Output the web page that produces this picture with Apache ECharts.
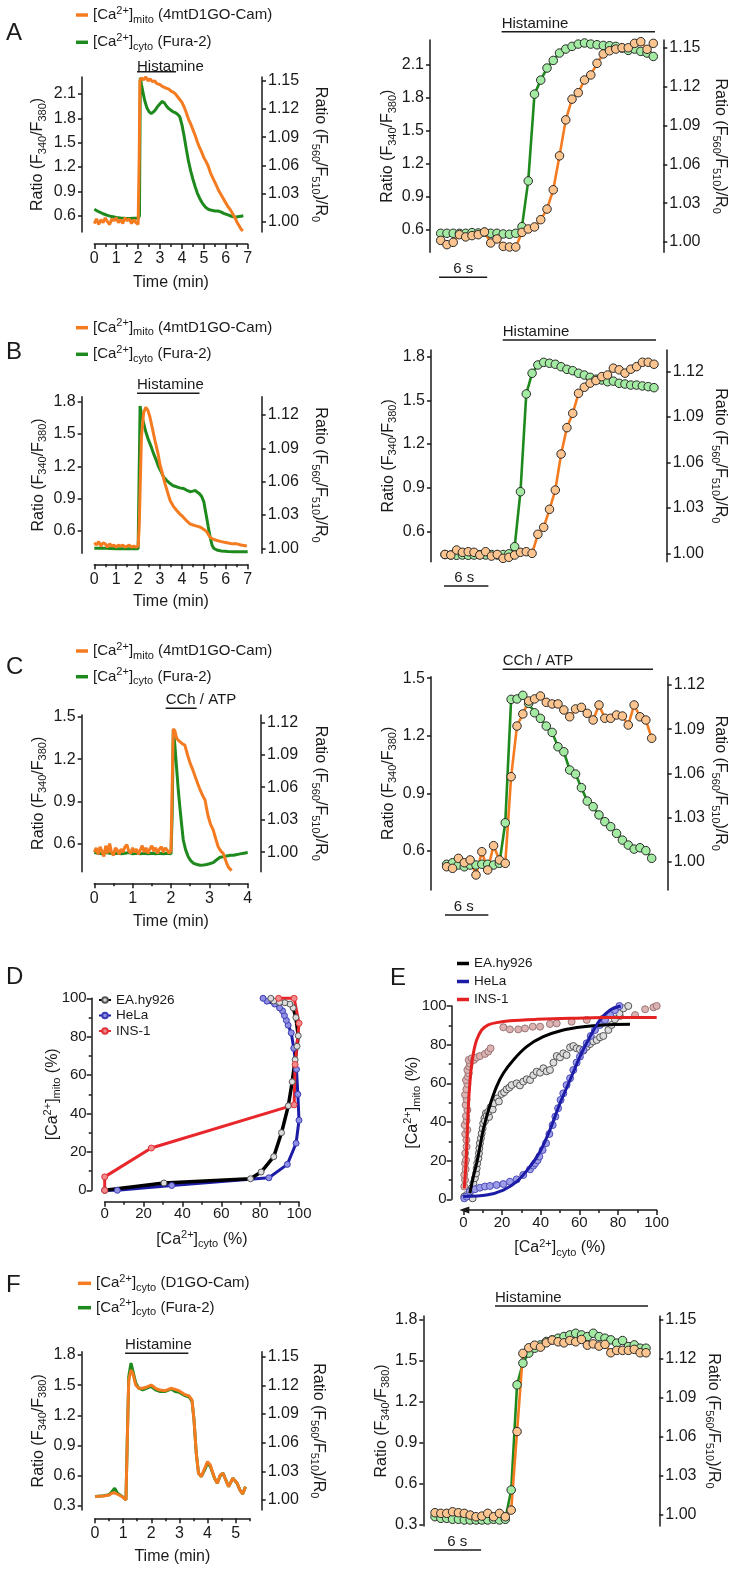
<!DOCTYPE html>
<html><head><meta charset="utf-8">
<script src="https://cdn.jsdelivr.net/npm/echarts@6/dist/echarts.min.js"></script>
<style>html,body{margin:0;padding:0;background:#fff;}#c{width:738px;height:1570px;}</style>
</head><body><div id="c"></div>
<script>
// ================= DATA =================
// Panel A left: time (min), ratio
const A_L_MITO = [[0,0.998],[0.1,1.003],[0.2,0.997],[0.3,1.002],[0.4,0.999],[0.5,1.004],[0.6,1.0],[0.7,0.997],[0.8,1.003],[0.9,1.001],[1.0,1.004],[1.1,0.999],[1.2,1.002],[1.3,0.998],[1.4,1.004],[1.5,1.001],[1.6,1.003],[1.7,0.998],[1.8,1.002],[1.9,0.999],[2.0,0.997],[2.05,1.07],[2.08,1.150],[2.15,1.153],[2.25,1.151],[2.35,1.154],[2.45,1.150],[2.55,1.152],[2.65,1.149],[2.75,1.150],[2.85,1.147],[3.0,1.146],[3.1,1.144],[3.2,1.143],[3.3,1.142],[3.4,1.141],[3.5,1.139],[3.6,1.138],[3.7,1.136],[3.8,1.133],[3.9,1.130],[4.0,1.127],[4.1,1.122],[4.2,1.116],[4.3,1.109],[4.4,1.104],[4.5,1.098],[4.6,1.092],[4.7,1.085],[4.8,1.079],[4.9,1.074],[5.0,1.068],[5.1,1.064],[5.2,1.059],[5.3,1.052],[5.4,1.047],[5.5,1.042],[5.6,1.037],[5.7,1.032],[5.8,1.028],[5.9,1.024],[6.0,1.020],[6.1,1.016],[6.2,1.013],[6.3,1.009],[6.4,1.005],[6.5,1.000],[6.6,0.996],[6.7,0.992],[6.78,0.990]];
const A_L_CYTO = [[0,0.68],[0.2,0.65],[0.4,0.625],[0.6,0.605],[0.8,0.59],[1.0,0.58],[1.2,0.572],[1.4,0.568],[1.6,0.566],[1.8,0.568],[2.0,0.57],[2.06,0.6],[2.1,2.30],[2.15,2.22],[2.22,2.12],[2.3,2.02],[2.4,1.93],[2.5,1.88],[2.6,1.86],[2.7,1.88],[2.8,1.91],[2.9,1.95],[3.0,1.98],[3.1,2.01],[3.2,1.99],[3.3,1.95],[3.4,1.92],[3.5,1.90],[3.6,1.88],[3.7,1.87],[3.8,1.85],[3.9,1.82],[4.0,1.72],[4.1,1.58],[4.2,1.42],[4.3,1.27],[4.4,1.15],[4.5,1.05],[4.6,0.96],[4.7,0.88],[4.8,0.82],[4.9,0.77],[5.0,0.73],[5.1,0.70],[5.2,0.68],[5.3,0.67],[5.4,0.665],[5.5,0.66],[5.6,0.66],[5.7,0.655],[5.8,0.645],[5.9,0.63],[6.0,0.62],[6.1,0.61],[6.2,0.60],[6.3,0.59],[6.4,0.585],[6.5,0.585],[6.6,0.59],[6.7,0.595],[6.8,0.60]];
const A_L_STIM = [1.95, 3.73];
// Panel A right: samples (frame interval DT seconds)
const A_R_DT = 0.78;
const A_R_CYTO = [0.570,0.570,0.570,0.570,0.570,0.576,0.573,0.579,0.570,0.570,0.564,0.561,0.570,0.630,1.044,1.830,1.957,2.066,2.135,2.202,2.238,2.262,2.283,2.293,2.283,2.277,2.271,2.268,2.262,2.247,2.226,2.238,2.217,2.202,2.171];
const A_R_MITO = [1.0012,0.9979,0.9997,1.0056,1.0039,1.0049,1.0056,1.0077,0.9992,1.0023,0.9966,0.9961,0.9961,1.0074,1.0100,1.0116,1.0172,1.0254,1.0403,1.0665,1.0943,1.1103,1.1153,1.1251,1.1290,1.1380,1.1452,1.1477,1.1490,1.1500,1.1500,1.1534,1.1547,1.1488,1.1534];
const A_R_STIM = [7.6, 26.86];
const A_R_SCALE = [-0.2, 6];

// Panel B
const B_L_MITO = [[0,1.005],[0.1,1.003],[0.2,1.006],[0.3,1.002],[0.4,1.005],[0.5,1.004],[0.6,1.001],[0.7,1.004],[0.8,1.002],[0.9,1.003],[1.0,1.001],[1.1,1.003],[1.2,1.002],[1.3,1.003],[1.4,1.001],[1.5,1.002],[1.6,1.003],[1.7,1.001],[1.8,1.002],[1.9,1.001],[2.0,1.002],[2.05,1.02],[2.15,1.10],[2.25,1.122],[2.35,1.127],[2.45,1.124],[2.54,1.118],[2.65,1.108],[2.77,1.097],[2.9,1.086],[3.0,1.075],[3.1,1.068],[3.23,1.058],[3.35,1.050],[3.46,1.043],[3.6,1.038],[3.76,1.034],[3.9,1.031],[4.06,1.028],[4.2,1.025],[4.37,1.022],[4.5,1.021],[4.68,1.020],[4.85,1.019],[5.0,1.017],[5.13,1.015],[5.28,1.010],[5.45,1.008],[5.6,1.007],[5.8,1.006],[6.05,1.005],[6.3,1.004],[6.5,1.004],[6.7,1.003],[6.96,1.002]];
const B_L_CYTO = [[0,0.44],[0.5,0.44],[1.0,0.435],[1.5,0.435],[2.0,0.435],[2.05,0.45],[2.09,1.76],[2.17,1.66],[2.25,1.60],[2.35,1.52],[2.47,1.445],[2.6,1.38],[2.7,1.32],[2.82,1.26],[2.93,1.197],[3.05,1.15],[3.15,1.104],[3.3,1.07],[3.46,1.04],[3.6,1.02],[3.76,1.01],[3.9,1.0],[4.06,0.995],[4.2,0.98],[4.37,0.965],[4.5,0.97],[4.6,0.975],[4.68,0.965],[4.8,0.945],[4.9,0.92],[5.0,0.87],[5.06,0.80],[5.13,0.72],[5.2,0.64],[5.28,0.55],[5.37,0.47],[5.45,0.44],[5.59,0.424],[5.8,0.415],[6.1,0.41],[6.36,0.408],[6.7,0.408],[7.0,0.408]];
const B_L_STIM = [1.95, 4.8];
const B_R_DT = 0.72;
const B_R_CYTO = [0.440,0.437,0.435,0.437,0.435,0.437,0.440,0.437,0.440,0.437,0.440,0.445,0.494,0.872,1.544,1.686,1.743,1.761,1.755,1.748,1.731,1.713,1.704,1.686,1.674,1.658,1.645,1.640,1.628,1.632,1.617,1.612,1.605,1.605,1.599,1.594,1.587];
const B_R_MITO = [0.9993,0.9989,1.0022,1.0007,1.0011,1.0007,0.9989,1.0011,0.9982,0.9993,0.9967,0.9974,0.9989,1.0007,1.0011,1.0000,1.0126,1.0172,1.0291,1.0418,1.0656,1.0830,1.0925,1.1057,1.1097,1.1124,1.1141,1.1167,1.1178,1.1223,1.1212,1.1190,1.1216,1.1233,1.1262,1.1262,1.1249];
const B_R_STIM = [7.16, 26.26];
const B_R_SCALE = [-0.62, 6];

// Panel C
const C_L_MITO = [[0,1.000],[0.05,1.004],[0.1,0.998],[0.15,1.005],[0.2,1.001],[0.25,0.996],[0.3,1.006],[0.35,0.999],[0.4,1.008],[0.45,1.000],[0.5,0.997],[0.55,1.004],[0.6,1.002],[0.65,0.998],[0.7,1.003],[0.75,1.000],[0.8,1.005],[0.85,1.007],[0.9,1.001],[0.95,0.999],[1.0,1.004],[1.05,1.000],[1.1,1.003],[1.15,0.998],[1.2,1.002],[1.25,1.006],[1.3,1.000],[1.35,1.004],[1.4,0.999],[1.45,1.003],[1.5,1.006],[1.55,1.001],[1.6,1.004],[1.65,0.999],[1.7,1.003],[1.75,1.005],[1.8,1.000],[1.85,1.004],[1.9,1.002],[1.95,0.999],[2.0,1.001],[2.03,1.06],[2.06,1.114],[2.1,1.112],[2.15,1.105],[2.2,1.103],[2.3,1.100],[2.36,1.099],[2.43,1.090],[2.5,1.082],[2.57,1.076],[2.63,1.070],[2.7,1.063],[2.76,1.0575],[2.83,1.052],[2.89,1.048],[2.93,1.040],[2.97,1.033],[3.03,1.026],[3.1,1.0206],[3.17,1.012],[3.23,1.005],[3.3,1.001],[3.36,0.999],[3.42,0.993],[3.45,0.990],[3.5,0.986],[3.58,0.983]];
const C_L_CYTO = [[0,0.54],[0.1,0.535],[0.2,0.53],[0.3,0.54],[0.4,0.535],[0.5,0.53],[0.6,0.535],[0.7,0.53],[0.8,0.535],[0.9,0.54],[1.0,0.53],[1.1,0.535],[1.2,0.53],[1.3,0.535],[1.4,0.53],[1.5,0.535],[1.6,0.53],[1.7,0.535],[1.8,0.53],[1.9,0.535],[2.0,0.53],[2.03,0.8],[2.06,1.407],[2.1,1.30],[2.15,1.124],[2.19,0.98],[2.23,0.864],[2.28,0.73],[2.32,0.628],[2.38,0.56],[2.45,0.51],[2.52,0.48],[2.59,0.463],[2.68,0.455],[2.76,0.45],[2.85,0.452],[2.93,0.455],[3.0,0.46],[3.1,0.468],[3.2,0.49],[3.28,0.506],[3.36,0.51],[3.45,0.515],[3.55,0.52],[3.63,0.52],[3.72,0.525],[3.8,0.53],[3.9,0.535],[4.0,0.54]];
const C_L_STIM = [1.86, 2.67];
const C_R_DT = 0.717;
const C_R_CYTO = [0.531,0.539,0.527,0.518,0.527,0.527,0.531,0.531,0.527,0.536,0.747,1.390,1.392,1.411,1.369,1.320,1.291,1.251,1.218,1.143,1.117,1.022,1.001,0.930,0.860,0.831,0.788,0.753,0.727,0.692,0.657,0.631,0.610,0.617,0.602,0.562];
const C_R_MITO = [0.9966,0.9955,1.0023,0.9993,1.0012,0.9910,1.0068,0.9944,1.0109,1.0012,0.9989,1.0577,1.0921,1.1003,1.1091,1.1105,1.1125,1.1082,1.1071,1.1071,1.1030,1.0984,1.1037,1.1048,1.1007,1.0962,1.1064,1.0974,1.0974,1.0996,1.0989,1.0928,1.1064,1.0984,1.0962,1.0838];
const C_R_STIM = [6.85, 25.7];
const C_R_SCALE = [-0.9, 6];

// Panel D: [cyto %, mito %]
const D_EA = [[0,0],[30.5,3.8],[75,6],[80.5,9.5],[87,17.5],[91,30],[94.5,44],[96.5,56.5],[98,68],[99,75],[99.6,80.5],[98.4,90],[97,95],[95.3,97],[92.7,97.7],[90,97.9],[87,98.6],[85.5,100]];
const D_HELA = [[0,0],[6.5,0],[34.5,2.5],[84.5,6.5],[94,13.5],[98.5,24.5],[100,36.5],[99.4,50],[98.7,63],[97.3,74],[96,82],[94.4,86],[93.5,88.5],[92.5,91],[91.5,93.5],[90,95],[87.5,97],[83.5,98.5],[81.5,100]];
const D_INS = [[0,0],[0,7],[24,22],[97.5,44.5],[98,65.5],[100,87],[97.5,100],[89.5,100]];

// Panel E: measured points and fitted curves [cyto %, mito %]
const E_INS_PTS = [[0.5,6.6],[0.9,10],[0.5,12.6],[1.2,15.5],[0.9,18.6],[1.4,20.3],[1.0,23.8],[1.7,27.2],[1.6,30.7],[1.0,33.8],[2.1,35.9],[0.7,38.4],[1.7,40.7],[1.4,43.1],[2.1,46.2],[1.2,48.8],[1.7,51.7],[0.9,54.1],[1.6,56.9],[2.1,59.7],[1.4,61.7],[2.4,63.4],[2.8,65.2],[2.1,66.9],[3.1,68.6],[3.4,70.3],[2.8,72.1],[4.3,72.9],[5.5,72.1],[6.9,73.4],[8.6,74.1],[11.2,75.2],[12.9,76.4],[14.1,78.1],[20.7,89],[24.1,87.9],[28.4,87.9],[31.9,88.4],[35.9,89.3],[39.7,89.3],[44.8,90.7],[48.3,91],[56,91.9],[63.8,92.8],[72.4,93.6],[81,94.8],[88.8,95.3],[94,98.3],[98.3,99.3],[100,100]];
const E_EA_PTS = [[0.5,1.4],[1.7,2.2],[4.8,0.5],[3.4,4],[4.3,5.7],[5.2,8.3],[6,10.9],[6.6,13.4],[6.9,16],[7.2,18.6],[7.8,21.2],[8.1,23.8],[8.3,26.4],[8.6,29],[9.1,31.6],[9.5,34.1],[10,36.7],[10.3,39.3],[10.9,41.9],[11.7,44.5],[11.2,40.5],[12.1,43.2],[13.3,42.6],[12.9,45.3],[14.1,47.6],[15.2,46.4],[15.9,49.7],[17.6,52.2],[18.4,50.6],[19.8,54.5],[21.1,55.4],[22.4,56.9],[23.8,57.8],[25,59.1],[27.6,60],[29.3,58.9],[31,60.9],[32.8,62.1],[34.5,61.7],[36.2,64.2],[37.9,66],[39.7,65.5],[41.4,67.8],[43.1,66.2],[44.8,66.9],[46.6,70.7],[48.3,74.1],[50,73.4],[51.7,75.5],[53.4,74.6],[55.2,78.6],[56.9,79.3],[58.6,78.1],[60.3,77.6],[62.1,76.9],[63.8,78.8],[65.5,80.3],[67.2,81.7],[69,82.4],[70.7,83.8],[72.4,84.5],[75,87.6],[76.7,90.2],[78.4,93.1],[80.7,96.2],[82.8,98.8],[85.3,100]];
const E_HELA_PTS = [[0.5,0.5],[1.7,1.4],[3.4,4],[6,5.2],[8.6,6],[11.2,6.6],[13.8,6.9],[17.2,7.4],[20.7,7.9],[24.1,9.1],[27.6,10.3],[31,12.6],[34.5,15.5],[36.2,17.4],[37.1,18.6],[38.4,20.2],[39.3,22.1],[41,25.5],[42.8,29],[44.5,33.8],[46.2,38.4],[47.6,42.8],[49,47.1],[50.3,51.4],[51.7,54.8],[53.4,59.1],[55.2,62.6],[56.9,66.9],[58.6,70.7],[60.3,73.8],[62.1,77.2],[63.8,80.7],[65.9,84.5],[68.1,87.6],[70.7,90.2],[73.3,92.8],[75.9,95.3],[78.4,97.9],[80.7,100]];
const E_INS_FIT = [[0.5,5.7],[1.4,18.6],[2.1,35.9],[2.9,53.1],[4,66.9],[5.2,75.5],[6.9,82.4],[9.5,87.6],[12.9,90.2],[17.2,91.4],[24.1,92.4],[37.9,93.1],[55.2,93.6],[72.4,94],[100,94.1]];
const E_EA_FIT = [[3.4,3.1],[5.2,11.7],[6.9,18.6],[8.6,27.2],[10.3,35.9],[12.1,42.8],[13.8,48.8],[17.2,58.3],[20.7,65.2],[25.9,72.1],[32.8,79],[41.4,84.1],[51.7,87.6],[62.1,89.3],[72.4,90.2],[86.2,90.5]];
const E_HELA_FIT = [[0,1.4],[12,2.2],[20.7,4.8],[27.6,9.1],[34.5,16.9],[39.7,24.7],[44.8,35.9],[50,49.7],[55.2,61.7],[60.3,73.8],[65.5,84.1],[70.7,92.8],[75.9,97.9],[81.4,100]];

// Panel F
const F_L_CYTO = [[0,0.391],[0.3,0.398],[0.5,0.408],[0.6,0.44],[0.7,0.474],[0.8,0.425],[1.0,0.385],[1.1,0.358],[1.15,0.989],[1.2,1.587],[1.28,1.72],[1.35,1.637],[1.45,1.521],[1.55,1.471],[1.7,1.454],[1.85,1.471],[2.0,1.487],[2.15,1.454],[2.3,1.437],[2.5,1.437],[2.7,1.461],[2.85,1.437],[3.0,1.428],[3.2,1.395],[3.35,1.381],[3.45,1.338],[3.52,1.155],[3.6,0.823],[3.68,0.624],[3.78,0.59],[3.9,0.657],[4.0,0.724],[4.1,0.69],[4.25,0.574],[4.35,0.524],[4.45,0.597],[4.55,0.624],[4.65,0.557],[4.75,0.49],[4.9,0.574],[4.97,0.59],[5.05,0.524],[5.15,0.457],[5.25,0.417],[5.35,0.49]];
const F_L_D1GO = [[0,1.0035],[0.3,1.0042],[0.5,1.0052],[0.6,1.007],[0.7,1.0076],[0.8,1.006],[1.0,1.0028],[1.1,1.0],[1.15,1.0662],[1.2,1.1256],[1.28,1.136],[1.35,1.1319],[1.45,1.1203],[1.55,1.1169],[1.7,1.1169],[1.85,1.1183],[2.0,1.1203],[2.15,1.1169],[2.3,1.1151],[2.5,1.1144],[2.7,1.1169],[2.85,1.1158],[3.0,1.1141],[3.2,1.1102],[3.35,1.1088],[3.45,1.1046],[3.52,1.0837],[3.6,1.0489],[3.68,1.0279],[3.78,1.0244],[3.9,1.0332],[4.0,1.0401],[4.1,1.0366],[4.25,1.0227],[4.35,1.0175],[4.45,1.0262],[4.55,1.0279],[4.65,1.0209],[4.75,1.0139],[4.9,1.0227],[4.97,1.0244],[5.05,1.0178],[5.15,1.0105],[5.25,1.0063],[5.35,1.0139]];
const F_L_STIM = [1.07, 3.32];
const F_R_DT = 0.737;
const F_R_CYTO = [0.361,0.349,0.349,0.342,0.342,0.337,0.337,0.337,0.337,0.337,0.342,0.337,0.342,0.556,1.323,1.482,1.555,1.591,1.615,1.640,1.652,1.664,1.676,1.688,1.700,1.688,1.676,1.700,1.676,1.664,1.652,1.628,1.647,1.603,1.615,1.591,1.591];
const F_R_D1GO = [1.0018,1.0013,1.0013,1.0025,1.0018,1.0013,1.0000,0.9987,0.9992,1.0013,0.9987,1.0013,0.9987,1.0038,1.0641,1.1241,1.1284,1.1304,1.1289,1.1322,1.1343,1.1330,1.1322,1.1340,1.1330,1.1348,1.1304,1.1314,1.1297,1.1310,1.1246,1.1264,1.1264,1.1264,1.1272,1.1246,1.1246];
const F_R_STIM = [7.54, 26.95];
const F_R_SCALE = [-0.2, 6];

// Tick values
const TICK_FURA_A = [0.6,0.9,1.2,1.5,1.8,2.1];
const TICK_FURA_B = [0.6,0.9,1.2,1.5,1.8];
const TICK_FURA_C = [0.6,0.9,1.2,1.5];
const TICK_FURA_F = [0.3,0.6,0.9,1.2,1.5,1.8];
const TICK_CAM_115 = [1.00,1.03,1.06,1.09,1.12,1.15];
const TICK_CAM_112 = [1.00,1.03,1.06,1.09,1.12];
const TIME_7 = [0,1,2,3,4,5,6,7], TIME_7_MINOR = [0.5,1.5,2.5,3.5,4.5,5.5,6.5];
const TIME_4 = [0,1,2,3,4], TIME_4_MINOR = [0.5,1.5,2.5,3.5];
const TIME_5 = [0,1,2,3,4,5], TIME_5_MINOR = [0.5,1.5,2.5,3.5,4.5,5.5];

// Texts
const LEG = {
  mito: '[Ca{sup|2+}]{sub|mito} (4mtD1GO-Cam)',
  fura: '[Ca{sup|2+}]{sub|cyto} (Fura-2)',
  d1go: '[Ca{sup|2+}]{sub|cyto} (D1GO-Cam)',
  D_EA: 'EA.hy926', D_HELA: 'HeLa', D_INS: 'INS-1',
  E_EA: 'EA.hy926', E_HELA: 'HeLa', E_INS: 'INS-1'
};
const NAME_FURA = 'Ratio (F{sub|340}/F{sub|380})';
const NAME_CAM = 'Ratio (F{sub|560}/F{sub|510})/R{sub|0}';
const NAME_TIME = 'Time (min)';
const NAME_MITO_PCT = '[Ca{sup|2+}]{sub|mito} (%)';
const NAME_CYTO_PCT = '[Ca{sup|2+}]{sub|cyto} (%)';

// ================= STYLE =================
const FONT = '"Liberation Sans", Arial, Helvetica, sans-serif';
const TXT = '#1a1a1a', AX = '#1a1a1a';
const ORANGE = '#f47b20', GREEN = '#1e8a1e';
const ORANGE_FILL = '#fcc48e', GREEN_FILL = '#a3eaa3';
const RICH = {
  sub: {fontSize: 11, lineHeight: 10, verticalAlign: 'bottom', fontFamily: FONT, fontWeight: 'normal', color: TXT},
  sup: {fontSize: 11, lineHeight: 10, verticalAlign: 'top', fontFamily: FONT, fontWeight: 'normal', color: TXT}
};
const NAME_STYLE = {fontFamily: FONT, fontSize: 16, fontWeight: 'normal', color: TXT, lineHeight: 20, rich: RICH};
const LABEL = {fontFamily: FONT, fontSize: 16, fontWeight: 'normal', color: TXT};
const LINE = {color: AX, width: 1.5};

const grids = [], xAxes = [], yAxes = [], series = [], legends = [], titles = [];

function yCfg(gi, o, pos) {
  return {
    gridIndex: gi, type: 'value', position: pos, offset: o.off, min: o.min, max: o.max,
    name: o.name, nameLocation: 'middle', nameRotate: pos === 'left' ? 90 : -90, nameGap: o.gap,
    nameTextStyle: NAME_STYLE, nameMoveOverlap: false,
    axisLine: {show: true, onZero: false, lineStyle: LINE},
    axisTick: {show: true, length: 4, customValues: o.ticks, lineStyle: LINE},
    axisLabel: Object.assign({show: true, margin: 6, customValues: o.ticks, formatter: v => Number(v).toFixed(o.dec)}, LABEL),
    splitLine: {show: false}
  };
}

function annot(left, width, xmin, xmax, y, seg, text, mode, dist) {
  const gi = grids.length;
  grids.push({left: left, width: width, top: y - 1, height: 1});
  const xi = xAxes.length;
  xAxes.push({gridIndex: gi, type: 'value', min: xmin, max: xmax, show: false});
  const yi = yAxes.length;
  yAxes.push({gridIndex: gi, type: 'value', min: 0, max: 1, show: false});
  series.push({type: 'line', xAxisIndex: xi, yAxisIndex: yi, data: [[seg[0], 0], [seg[1], 0]],
    symbol: 'none', clip: false, silent: true, lineStyle: {color: AX, width: 1.5}});
  const lx = mode === 'center' ? (seg[0] + seg[1]) / 2 : seg[0];
  series.push({type: 'scatter', xAxisIndex: xi, yAxisIndex: yi, data: [[lx, 0]], symbolSize: 1,
    itemStyle: {color: 'rgba(0,0,0,0)', opacity: 1}, clip: false, silent: true,
    label: {show: true, formatter: text, position: 'top', distance: dist, opacity: 1,
      align: mode === 'center' ? 'center' : 'left', fontFamily: FONT, fontSize: 15, fontWeight: 'normal', color: TXT, lineHeight: 15}});
}

function tracePanel(P) {
  const gi = grids.length;
  grids.push({left: P.left, top: P.top, width: P.width, height: P.height});
  const xi = xAxes.length;
  let xMax;
  if (P.time) {
    xMax = P.xMax;
    xAxes.push({gridIndex: gi, type: 'value', position: 'bottom', offset: P.xOff, min: 0, max: xMax,
      name: NAME_TIME, nameLocation: 'middle', nameGap: P.xGap, nameTextStyle: NAME_STYLE, nameMoveOverlap: false,
      axisLine: {show: true, onZero: false, lineStyle: LINE},
      axisTick: {show: true, length: 5, customValues: P.time, lineStyle: LINE},
      axisLabel: Object.assign({show: true, margin: 7, customValues: P.time, formatter: v => String(v)}, LABEL),
      splitLine: {show: false}});
    xAxes.push({gridIndex: gi, type: 'value', position: 'bottom', offset: P.xOff, min: 0, max: xMax,
      axisLine: {show: false}, axisTick: {show: true, length: 3, customValues: P.minor, lineStyle: LINE},
      axisLabel: {show: false}, splitLine: {show: false}});
  } else {
    xMax = (P.cyto.length - 1) * P.dt;
    xAxes.push({gridIndex: gi, type: 'value', min: 0, max: xMax, show: false});
  }
  const yl = yAxes.length;
  yAxes.push(yCfg(gi, Object.assign({name: NAME_FURA, dec: 1}, P.yL), 'left'));
  yAxes.push(yCfg(gi, Object.assign({name: NAME_CAM, dec: 2}, P.yR), 'right'));
  if (P.time) {
    series.push({type: 'line', name: 'fura', xAxisIndex: xi, yAxisIndex: yl, data: P.cyto, showSymbol: false, symbol: 'none',
      color: GREEN, itemStyle: {color: GREEN}, lineStyle: {color: GREEN, width: 3}});
    series.push({type: 'line', name: P.mitoName, xAxisIndex: xi, yAxisIndex: yl + 1, data: P.mito, showSymbol: false, symbol: 'none',
      color: ORANGE, itemStyle: {color: ORANGE}, lineStyle: {color: ORANGE, width: 3}});
  } else {
    const mk = (arr) => arr.map((v, i) => [i * P.dt, v]);
    series.push({type: 'line', name: 'dots_fura', xAxisIndex: xi, yAxisIndex: yl, data: mk(P.cyto), clip: false,
      symbol: 'circle', symbolSize: 8.5, showSymbol: true, showAllSymbol: true,
      itemStyle: {color: GREEN_FILL, borderColor: '#2a2a2a', borderWidth: 1}, lineStyle: {color: GREEN, width: 2.6}});
    series.push({type: 'line', name: 'dots_cam', xAxisIndex: xi, yAxisIndex: yl + 1, data: mk(P.mito), clip: false,
      symbol: 'circle', symbolSize: 8.5, showSymbol: true, showAllSymbol: true,
      itemStyle: {color: ORANGE_FILL, borderColor: '#2a2a2a', borderWidth: 1}, lineStyle: {color: ORANGE, width: 2.6}});
  }
  annot(P.left, P.width, 0, xMax, P.stimY, P.stim, P.stimText, 'left', P.stimDist);
  if (!P.time) annot(P.left, P.width, 0, xMax, P.scaleY, [P.scale[0], P.scale[0] + P.scale[1]], P.scale[1] + ' s', 'center', 0);
}

// ---------- build panels ----------
tracePanel({left: 94.3, top: 77, width: 153.4, height: 155, time: TIME_7, minor: TIME_7_MINOR, xMax: 7, xOff: 12, xGap: 29,
  yL: {min: 0.4, max: 2.31, off: 12.3, gap: 34, ticks: TICK_FURA_A}, yR: {min: 0.989, max: 1.154, off: 14.3, gap: 48, ticks: TICK_CAM_115},
  cyto: A_L_CYTO, mito: A_L_MITO, mitoName: 'mito', stim: A_L_STIM, stimY: 71.7, stimText: 'Histamine', stimDist: -3});
tracePanel({left: 440.7, top: 40, width: 212.6, height: 212.3, dt: A_R_DT,
  yL: {min: 0.398, max: 2.32, off: 10.7, gap: 32, ticks: TICK_FURA_A}, yR: {min: 0.992, max: 1.156, off: 10, gap: 47, ticks: TICK_CAM_115},
  cyto: A_R_CYTO, mito: A_R_MITO, stim: A_R_STIM, stimY: 31.7, stimText: 'Histamine', stimDist: 0, scale: A_R_SCALE, scaleY: 277.3});

tracePanel({left: 94.3, top: 396.7, width: 153.4, height: 156.6, time: TIME_7, minor: TIME_7_MINOR, xMax: 7, xOff: 11, xGap: 27,
  yL: {min: 0.393, max: 1.846, off: 12.6, gap: 33.4, ticks: TICK_FURA_B}, yR: {min: 0.9955, max: 1.1365, off: 14, gap: 48.3, ticks: TICK_CAM_112},
  cyto: B_L_CYTO, mito: B_L_MITO, mitoName: 'mito', stim: B_L_STIM, stimY: 393.3, stimText: 'Histamine', stimDist: 0});
tracePanel({left: 445, top: 350, width: 209, height: 211.7, dt: B_R_DT,
  yL: {min: 0.391, max: 1.846, off: 14, gap: 32.7, ticks: TICK_FURA_B}, yR: {min: 0.9945, max: 1.1343, off: 12.7, gap: 43.3, ticks: TICK_CAM_112},
  cyto: B_R_CYTO, mito: B_R_MITO, stim: B_R_STIM, stimY: 340, stimText: 'Histamine', stimDist: 0, scale: B_R_SCALE, scaleY: 586});

tracePanel({left: 94.3, top: 715, width: 153.4, height: 156.7, time: TIME_4, minor: TIME_4_MINOR, xMax: 4, xOff: 11.6, xGap: 28.7,
  yL: {min: 0.404, max: 1.512, off: 12.6, gap: 33.4, ticks: TICK_FURA_C}, yR: {min: 0.982, max: 1.1267, off: 13.3, gap: 49, ticks: TICK_CAM_112},
  cyto: C_L_CYTO, mito: C_L_MITO, mitoName: 'mito', stim: C_L_STIM, stimY: 708.3, stimText: 'CCh / ATP', stimDist: 0});
tracePanel({left: 446.7, top: 676.7, width: 205, height: 213.3, dt: C_R_DT,
  yL: {min: 0.397, max: 1.508, off: 15.7, gap: 32.7, ticks: TICK_FURA_C}, yR: {min: 0.9808, max: 1.1256, off: 16, gap: 42.3, ticks: TICK_CAM_112},
  cyto: C_R_CYTO, mito: C_R_MITO, stim: C_R_STIM, stimY: 669.3, stimText: 'CCh / ATP', stimDist: 0, scale: C_R_SCALE, scaleY: 915});

tracePanel({left: 95, top: 1351.7, width: 154.7, height: 158.3, time: TIME_5, minor: TIME_5_MINOR, xMax: 5.5, xOff: 8.3, xGap: 28,
  yL: {min: 0.257, max: 1.833, off: 13.3, gap: 33.4, ticks: TICK_FURA_F}, yR: {min: 0.9895, max: 1.1552, off: 12, gap: 46.6, ticks: TICK_CAM_115},
  cyto: F_L_CYTO, mito: F_L_D1GO, mitoName: 'd1go', stim: F_L_STIM, stimY: 1353.3, stimText: 'Histamine', stimDist: 0});
tracePanel({left: 435, top: 1316, width: 211, height: 210, dt: F_R_DT,
  yL: {min: 0.293, max: 1.826, off: 11.7, gap: 31.6, ticks: TICK_FURA_F}, yR: {min: 0.9916, max: 1.1528, off: 13.3, gap: 44, ticks: TICK_CAM_115},
  cyto: F_R_CYTO, mito: F_R_D1GO, stim: F_R_STIM, stimY: 1306, stimText: 'Histamine', stimDist: 0, scale: F_R_SCALE, scaleY: 1550});

// ---------- D & E ----------
function pctAxes(gi, P) {
  const common = {type: 'value', min: 0, max: 100, interval: 20, nameLocation: 'middle', nameTextStyle: NAME_STYLE, nameMoveOverlap: false,
    axisTick: {show: true, length: 5, lineStyle: LINE}, minorTick: {show: true, splitNumber: 2, length: 3, lineStyle: LINE},
    axisLabel: {show: true, margin: 5, fontFamily: FONT, fontSize: 15, fontWeight: 'normal', color: TXT},
    splitLine: {show: false}, minorSplitLine: {show: false}};
  const xi = xAxes.length;
  xAxes.push(Object.assign({}, common, {gridIndex: gi, position: 'bottom', offset: P.xOff, name: NAME_CYTO_PCT, nameGap: P.xGap,
    axisLine: {show: true, onZero: false, lineStyle: LINE, symbol: P.arrow ? ['triangle', 'none'] : 'none', symbolSize: [7, 10], symbolOffset: [1, 0]}}));
  const yi = yAxes.length;
  yAxes.push(Object.assign({}, common, {gridIndex: gi, position: 'left', offset: P.yOff, name: NAME_MITO_PCT, nameGap: P.yGap, nameRotate: 90,
    axisLine: {show: true, onZero: false, lineStyle: LINE}}));
  return [xi, yi];
}
let gD = grids.length;
grids.push({left: 104.7, top: 998.3, width: 194.3, height: 192});
let [dx, dy] = pctAxes(gD, {xOff: 11.4, xGap: 28, yOff: 13, yGap: 29});
const dSer = (name, data, col, fill, border, w) => ({type: 'line', name: name, xAxisIndex: dx, yAxisIndex: dy, data: data, clip: false,
  symbol: 'circle', symbolSize: 6, showAllSymbol: true, color: col,
  itemStyle: {color: fill, borderColor: border, borderWidth: 1}, lineStyle: {color: col, width: w}});
series.push(dSer('D_HELA', D_HELA, '#1c1ca6', '#8f8fe3', '#3c3cb4', 3));
series.push(dSer('D_EA', D_EA, '#000000', '#dcdcdc', '#555555', 3.5));
series.push(dSer('D_INS', D_INS, '#e8262b', '#f28b8b', '#e0353a', 3));

let gE = grids.length;
grids.push({left: 463.3, top: 1006, width: 193.4, height: 193.3});
let [ex, ey] = pctAxes(gE, {xOff: 10.7, xGap: 28, yOff: 11.6, yGap: 29.5, arrow: true});
const ePts = (name, data, fill, border) => ({type: 'scatter', name: name, xAxisIndex: ex, yAxisIndex: ey, data: data, clip: false,
  symbol: 'circle', symbolSize: 7, itemStyle: {color: fill, borderColor: border, borderWidth: 1, opacity: 1}});
const eFit = (name, data, col) => ({type: 'line', name: name, xAxisIndex: ex, yAxisIndex: ey, data: data, clip: false,
  symbol: 'none', smooth: 0.3, color: col, itemStyle: {color: col}, lineStyle: {color: col, width: 3}});
series.push(ePts('E_INS_pts', E_INS_PTS, '#dcb3b3', '#9a7575'));
series.push(ePts('E_EA_pts', E_EA_PTS, '#dddddd', '#555555'));
series.push(ePts('E_HELA_pts', E_HELA_PTS, '#9d9de8', '#4d4dbb'));
series.push(eFit('E_EA', E_EA_FIT, '#000000'));
series.push(eFit('E_HELA', E_HELA_FIT, '#1c1ca6'));
series.push(eFit('E_INS', E_INS_FIT, '#e52222'));

// ---------- legends ----------
const legBase = {orient: 'vertical', selectedMode: false, padding: 0, formatter: n => LEG[n],
  textStyle: {fontFamily: FONT, fontSize: 15, fontWeight: 'normal', color: TXT, lineHeight: 20, rich: RICH}};
legends.push(Object.assign({}, legBase, {left: 76, top: 5, itemGap: 7.3, icon: 'rect', itemWidth: 12, itemHeight: 3.5, data: ['mito', 'fura']}));
legends.push(Object.assign({}, legBase, {left: 76, top: 317.7, itemGap: 6.6, icon: 'rect', itemWidth: 12, itemHeight: 3.5, data: ['mito', 'fura']}));
legends.push(Object.assign({}, legBase, {left: 76, top: 641, itemGap: 5.7, icon: 'rect', itemWidth: 12, itemHeight: 3.5, data: ['mito', 'fura']}));
legends.push(Object.assign({}, legBase, {left: 78, top: 1273.3, itemGap: 4.4, icon: 'rect', itemWidth: 13, itemHeight: 3.5, data: ['d1go', 'fura']}));
legends.push(Object.assign({}, legBase, {left: 98, top: 992.5, itemGap: 0.5, itemWidth: 12, itemHeight: 7,
  textStyle: {fontFamily: FONT, fontSize: 13.5, fontWeight: 'normal', color: TXT, lineHeight: 15}, data: ['D_EA', 'D_HELA', 'D_INS']}));
legends.push(Object.assign({}, legBase, {left: 457, top: 956, itemGap: 3, icon: 'rect', itemWidth: 12, itemHeight: 3.5,
  textStyle: {fontFamily: FONT, fontSize: 13.5, fontWeight: 'normal', color: TXT, lineHeight: 15}, data: ['E_EA', 'E_HELA', 'E_INS']}));

// ---------- panel letters ----------
const LETTERS = [['A', 6, 21], ['B', 6, 340], ['C', 6, 655], ['D', 6, 965], ['E', 390, 966], ['F', 6, 1273]];
LETTERS.forEach(l => titles.push({text: l[0], left: l[1], top: l[2], padding: 0,
  textStyle: {fontFamily: FONT, fontSize: 24, fontWeight: 'normal', color: TXT, lineHeight: 24}}));

const chart = echarts.init(document.getElementById('c'), null, {renderer: 'canvas', width: 738, height: 1570});
chart.setOption({animation: false, backgroundColor: '#ffffff', title: titles, legend: legends,
  grid: grids, xAxis: xAxes, yAxis: yAxes, series: series});
</script></body></html>
